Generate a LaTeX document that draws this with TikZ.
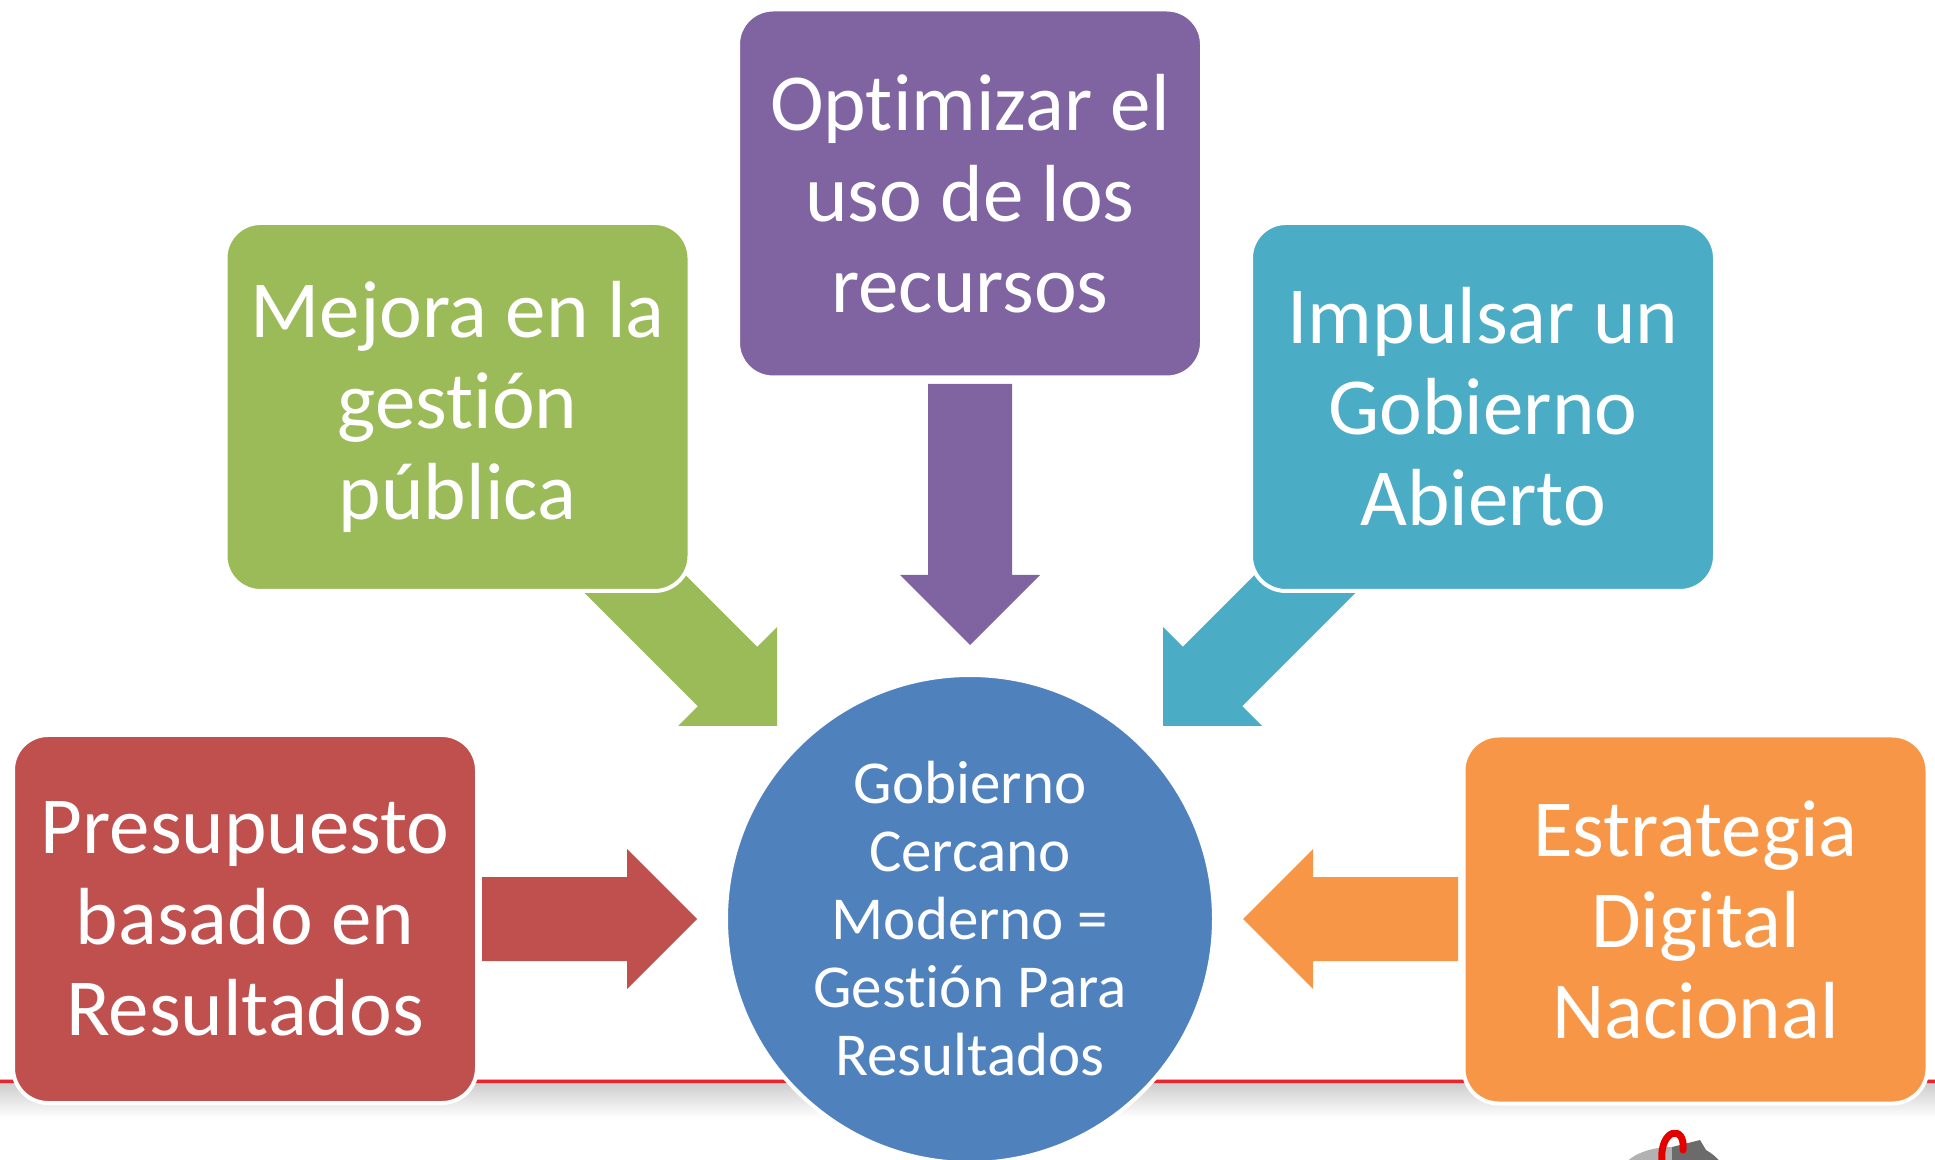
\documentclass[tikz,border=0pt]{standalone}
\usepackage{fontspec}
\setmainfont{Carlito}[Ligatures={NoCommon,NoRequired}]
\definecolor{cred}{HTML}{C0504D}
\definecolor{cgreen}{HTML}{9BBB59}
\definecolor{cpurple}{HTML}{8064A2}
\definecolor{cteal}{HTML}{4BACC6}
\definecolor{corange}{HTML}{F79646}
\definecolor{cblue}{HTML}{4F81BD}
\definecolor{lred}{HTML}{E8262B}
\begin{document}
\begin{tikzpicture}[x=0.5pt,y=-0.5pt,
  box/.style={rectangle, rounded corners=17.5pt, draw=white, line width=2pt,
    minimum width=232pt, minimum height=184pt, inner sep=0pt, align=center,
    text=white, font=\fontsize{40.5pt}{45.5pt}\selectfont},
  hub/.style={circle, draw=white, line width=2pt, fill=cblue, minimum size=244pt,
    inner sep=0pt, align=center, text=white, font=\fontsize{30.5pt}{34pt}\selectfont}]
\useasboundingbox (0,0) rectangle (1935,1160);
\clip (0,0) rectangle (1935,1160);
% bottom rule and shadow
\shade[top color=black!20, bottom color=white, draw=none] (0,1082) rectangle (1935,1118);
\fill[lred!40] (0,1078.5) rectangle (1935,1083.5);
\fill[lred] (0,1080) rectangle (1935,1082.5);
% logo fragment
\fill[black!30] (1672,1176) ellipse [x radius=52, y radius=29];
\fill[black!58] (1672,1147) -- (1700,1140) -- (1706,1150) .. controls (1716,1156) and (1722,1162) .. (1724,1170) -- (1672,1170) -- cycle;
\draw[red!90!black, line width=3.5pt, line cap=round] (1662,1162) .. controls (1659,1128) and (1686,1124) .. (1683,1150);
% central node
\node[hub] (hub) at (970,919) {Gobierno\\Cercano\\Moderno =\\Gestión Para\\Resultados};
% block arrows (drawn before boxes)
\fill[cpurple] (928,384) -- (1012,384) -- (1012,575) -- (1040,575) -- (970,645) -- (900,575) -- (928,575) -- cycle;
\fill[cred] (482,877) -- (627,877) -- (627,849) -- (697,919) -- (627,989) -- (627,961) -- (482,961) -- cycle;
\fill[corange] (1458,877) -- (1313,877) -- (1313,849) -- (1243,919) -- (1313,989) -- (1313,961) -- (1458,961) -- cycle;
\fill[cgreen] (547.8,556.2) -- (697.8,706.2) -- (678,726) -- (777,726) -- (777,627) -- (757.2,646.8) -- (607.2,496.8) -- cycle;
\fill[cteal] (1392.2,556.2) -- (1242.2,706.2) -- (1262,726) -- (1163,726) -- (1163,627) -- (1182.8,646.8) -- (1332.8,496.8) -- cycle;
% boxes
\node[box, fill=cred] (pres) at (245,919) {Presupuesto\\basado en\\Resultados};
\node[box, fill=cgreen] (mej) at (457.5,407) {Mejora en la\\gestión\\pública};
\node[box, fill=cpurple] (opt) at (970,193.5) {Optimizar el\\uso de los\\recursos};
\node[box, fill=cteal] (imp) at (1483,407) {Impulsar un\\Gobierno\\Abierto};
\node[box, fill=corange] (est) at (1695.5,919.5) {Estrategia\\Digital\\Nacional};
\end{tikzpicture}
\end{document}
